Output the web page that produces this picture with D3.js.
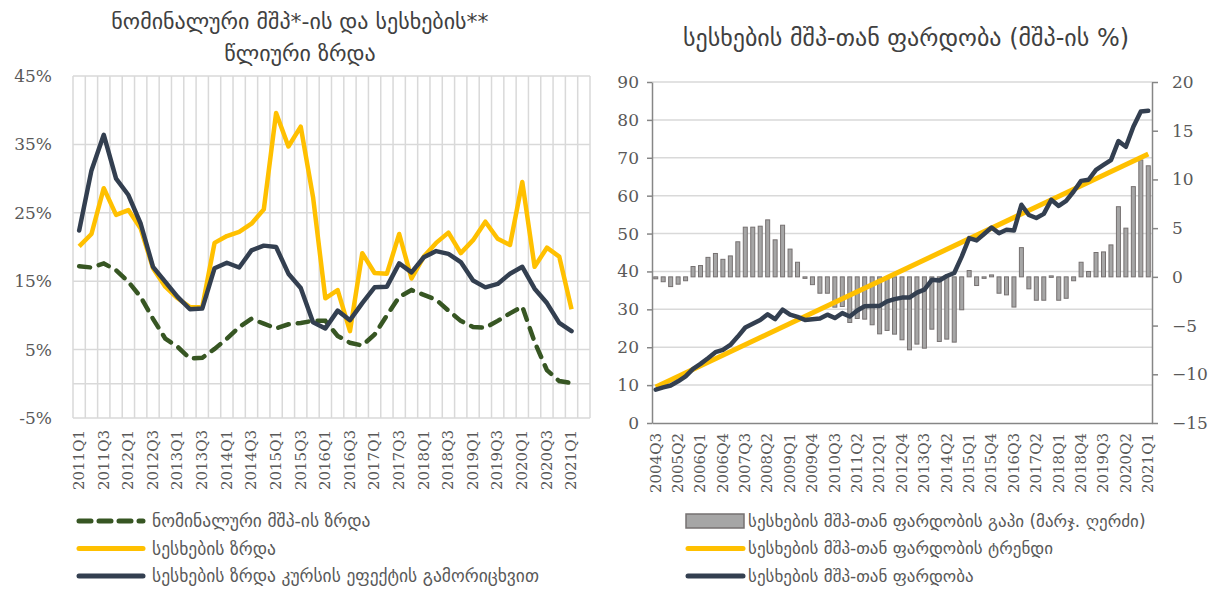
<!DOCTYPE html>
<html>
<head>
<meta charset="utf-8">
<script src="https://cdn.jsdelivr.net/npm/d3@7"></script>
<style>
  body { margin: 0; background: #fff; }
  svg text { fill: #595959; }
</style>
</head>
<body>
<div id="chart"></div>
<script>
// quarter labels helper
const quarters = (y0, q0, y1, q1) => {
	const out = [];
	let y = y0, q = q0;
	while (y < y1 || (y === y1 && q <= q1)) {
		out.push(y + 'Q' + q);
		q++;
		if (q > 4) { q = 1; y++; }
	}
	return out;
};

// ---- left chart data (annual growth, %)
const growthQuarters = quarters(2011, 1, 2021, 1);
const nominalGdpGrowth = [17.2, 17.0, 17.6, 16.6, 14.9, 12.7, 9.5, 6.6, 5.4, 3.7, 3.8, 5.1, 6.6, 8.3, 9.5, 8.8, 8.1, 8.7, 8.9, 9.2, 9.2, 7.0, 6.0, 5.6, 7.2, 10.0, 12.7, 13.7, 13.0, 12.3, 10.7, 9.2, 8.3, 8.2, 9.2, 10.3, 11.3, 6.1, 2.0, 0.4, 0.1];
const loanGrowth = [20.1, 21.9, 28.6, 24.7, 25.4, 22.7, 16.9, 14.2, 12.5, 11.2, 11.2, 20.6, 21.6, 22.2, 23.4, 25.5, 39.6, 34.7, 37.6, 27.3, 12.5, 13.7, 7.7, 19.1, 16.2, 16.1, 21.9, 15.4, 18.6, 20.6, 22.1, 19.1, 21.0, 23.7, 21.2, 20.3, 29.5, 17.1, 19.9, 18.6, 10.9];
const loanGrowthExFx = [22.4, 31.2, 36.4, 30.0, 27.6, 23.4, 17.1, 14.9, 12.7, 10.9, 11.0, 16.9, 17.7, 17.0, 19.5, 20.2, 20.0, 16.1, 14.0, 9.0, 8.1, 10.7, 9.3, 11.8, 14.1, 14.2, 17.6, 16.3, 18.5, 19.4, 19.0, 17.8, 15.1, 14.1, 14.6, 16.1, 17.1, 13.9, 11.8, 8.9, 7.7];
const growthTicks = [-5, 5, 15, 25, 35, 45];

// ---- right chart data (loans to GDP)
const ratioQuarters = quarters(2004, 3, 2021, 1);
const loanToGdp = [8.8, 9.4, 9.9, 11.0, 12.3, 14.3, 15.6, 17.1, 18.7, 19.3, 20.6, 22.8, 25.2, 26.2, 27.2, 28.7, 27.4, 29.9, 28.6, 28.0, 27.2, 27.4, 27.6, 28.6, 27.7, 29.0, 28.1, 29.7, 30.8, 30.9, 30.9, 32.1, 32.7, 33.1, 33.1, 34.4, 35.2, 37.8, 37.6, 38.8, 39.6, 43.9, 48.8, 48.2, 49.9, 51.6, 50.1, 51.0, 50.8, 57.6, 54.9, 54.1, 55.2, 58.9, 57.3, 58.6, 61.1, 63.9, 64.2, 66.8, 68.1, 69.4, 74.4, 72.9, 78.2, 82.2, 82.4];
const loanToGdpGap = [-0.2, -0.5, -1.0, -0.75, -0.4, 1.06, 1.16, 2.0, 2.4, 1.8, 2.15, 3.6, 5.1, 5.1, 5.2, 5.85, 3.8, 5.3, 2.85, 1.5, -0.1, -0.8, -1.68, -1.68, -3.11, -3.04, -4.68, -4.27, -4.34, -4.92, -5.85, -5.5, -5.88, -6.46, -7.49, -6.9, -7.32, -5.37, -6.63, -6.39, -6.7, -3.38, 0.65, -0.89, -0.1, 0.2, -1.68, -1.85, -3.1, 3.0, -1.23, -2.4, -2.4, 0.1, -2.4, -2.2, -0.4, 1.5, 0.55, 2.5, 2.56, 3.28, 7.2, 5.0, 9.26, 12.0, 11.4];
const trendEnds = [['2004Q3', 9.5], ['2021Q1', 71.0]];
const leftTicks = [0, 10, 20, 30, 40, 50, 60, 70, 80, 90];
const rightTicks = [-15, -10, -5, 0, 5, 10, 15, 20];

const titleLeft = ['ნომინალური მშპ*-ის და სესხების**', 'წლიური ზრდა'];
const titleRight = 'სესხების მშპ-თან ფარდობა (მშპ-ის %)';
const legendLeft = ['ნომინალური მშპ-ის ზრდა', 'სესხების ზრდა', 'სესხების ზრდა კურსის ეფექტის გამორიცხვით'];
const legendRight = ['სესხების მშპ-თან ფარდობის გაპი (მარჯ. ღერძი)', 'სესხების მშპ-თან ფარდობის ტრენდი', 'სესხების მშპ-თან ფარდობა'];

const GREEN = '#375623', YELLOW = '#FFC000', NAVY = '#333F50', GRID = '#d9d9d9', AXIS = '#868686';
const geoFont = "'DejaVu Sans', sans-serif";
const numFont = "'DejaVu Serif', serif";

const svg = d3.select('#chart').append('svg')
	.attr('width', 1228).attr('height', 589);

// ================= left chart =================
const L = { left: 73, right: 590, top: 76, bottom: 418 };
const xL = d3.scaleBand().domain(growthQuarters.concat(['pad'])).range([L.left, L.right]);
const yL = d3.scaleLinear().domain([-5, 45]).range([L.bottom, L.top]);
const gL = svg.append('g');

// vertical grid at band edges
const edges = xL.domain().map(d => xL(d)).concat([L.right]);
gL.append('g').selectAll('line').data(edges).enter().append('line')
	.attr('x1', d => d).attr('x2', d => d)
	.attr('y1', L.top).attr('y2', L.bottom)
	.attr('stroke', GRID).attr('stroke-width', 1.5);
gL.append('g').selectAll('line').data(growthTicks.concat([0])).enter().append('line')
	.attr('x1', L.left).attr('x2', L.right)
	.attr('y1', d => yL(d)).attr('y2', d => yL(d))
	.attr('stroke', GRID).attr('stroke-width', 1.5);

gL.append('g')
	.attr('transform', 'translate(' + (L.left - 18) + ',0)')
	.call(d3.axisLeft(yL).tickValues(growthTicks).tickSize(0).tickFormat(d => d + '%'))
	.call(g => g.select('.domain').remove())
	.selectAll('text')
	.style('font-family', numFont).style('font-size', '17px');

gL.append('g')
	.attr('transform', 'translate(0,' + L.bottom + ')')
	.call(d3.axisBottom(xL).tickValues(growthQuarters.filter((d, i) => i % 2 === 0)).tickSize(0))
	.call(g => g.select('.domain').remove())
	.selectAll('text')
	.style('font-family', numFont).style('font-size', '15px')
	.attr('transform', 'rotate(-90)')
	.attr('text-anchor', 'end')
	.attr('x', -12).attr('y', 0).attr('dy', '0.32em');

const lineL = vals => d3.line()
	.x((d, i) => xL(growthQuarters[i]) + xL.bandwidth() / 2)
	.y(d => yL(d))(vals);

gL.append('path').attr('d', lineL(nominalGdpGrowth))
	.attr('fill', 'none').attr('stroke', GREEN).attr('stroke-width', 4.5)
	.attr('stroke-dasharray', '11 9').attr('stroke-linecap', 'round');
gL.append('path').attr('d', lineL(loanGrowth))
	.attr('fill', 'none').attr('stroke', YELLOW).attr('stroke-width', 4.5)
	.attr('stroke-linejoin', 'round');
gL.append('path').attr('d', lineL(loanGrowthExFx))
	.attr('fill', 'none').attr('stroke', NAVY).attr('stroke-width', 4.5)
	.attr('stroke-linejoin', 'round').attr('stroke-linecap', 'round');

gL.append('text').attr('x', 300).attr('text-anchor', 'middle')
	.style('font-family', geoFont).style('font-size', '22px').style('fill', '#404040')
	.selectAll('tspan').data(titleLeft).enter().append('tspan')
	.attr('x', 300).attr('y', (d, i) => 29 + i * 32).text(d => d);

// ================= right chart =================
const R = { left: 652, right: 1152, top: 82, bottom: 423 };
const xR = d3.scaleBand().domain(ratioQuarters).range([R.left, R.right]);
const yR = d3.scaleLinear().domain([0, 90]).range([R.bottom, R.top]);
const yR2 = d3.scaleLinear().domain([-15, 20]).range([R.bottom, R.top]);
const gR = svg.append('g');
const cx = q => xR(q) + xR.bandwidth() / 2;

gR.append('g').selectAll('line').data(leftTicks.slice(1)).enter().append('line')
	.attr('x1', R.left).attr('x2', R.right)
	.attr('y1', d => yR(d)).attr('y2', d => yR(d))
	.attr('stroke', GRID).attr('stroke-width', 1.5);

// bars (gap, right axis)
gR.append('g').selectAll('rect').data(loanToGdpGap).enter().append('rect')
	.attr('x', (d, i) => cx(ratioQuarters[i]) - 2)
	.attr('width', 4)
	.attr('y', d => yR2(Math.max(0, d)))
	.attr('height', d => Math.max(1.5, Math.abs(yR2(d) - yR2(0))))
	.attr('fill', '#a6a6a6').attr('stroke', '#767171').attr('stroke-width', 1);

gR.append('g')
	.attr('transform', 'translate(' + R.left + ',0)')
	.call(d3.axisLeft(yR).tickValues(leftTicks).tickSize(5).tickSizeOuter(0).tickPadding(8))
	.call(g => g.selectAll('line, path').attr('stroke', AXIS).attr('stroke-width', 1.5))
	.selectAll('text')
	.style('font-family', numFont).style('font-size', '17px');

gR.append('g')
	.attr('transform', 'translate(' + R.right + ',0)')
	.call(d3.axisRight(yR2).tickValues(rightTicks).tickSize(6).tickSizeOuter(0).tickPadding(14))
	.call(g => g.selectAll('line, path').attr('stroke', AXIS).attr('stroke-width', 1.5))
	.selectAll('text')
	.style('font-family', numFont).style('font-size', '17px');

gR.append('g')
	.attr('transform', 'translate(0,' + R.bottom + ')')
	.call(d3.axisBottom(xR).tickValues(ratioQuarters.filter((d, i) => i % 3 === 0)).tickSize(0).tickSizeOuter(0))
	.call(g => g.select('.domain').attr('stroke', AXIS).attr('stroke-width', 1.5))
	.selectAll('text')
	.style('font-family', numFont).style('font-size', '15px')
	.attr('transform', 'rotate(-90)')
	.attr('text-anchor', 'end')
	.attr('x', -10).attr('y', 0).attr('dy', '0.32em');

gR.append('path')
	.attr('d', d3.line().x(d => cx(d[0])).y(d => yR(d[1]))(trendEnds))
	.attr('fill', 'none').attr('stroke', YELLOW).attr('stroke-width', 5);
gR.append('path')
	.attr('d', d3.line().x((d, i) => cx(ratioQuarters[i])).y(d => yR(d))(loanToGdp))
	.attr('fill', 'none').attr('stroke', NAVY).attr('stroke-width', 4.5)
	.attr('stroke-linejoin', 'round').attr('stroke-linecap', 'round');

gR.append('text').attr('x', 906).attr('y', 46).attr('text-anchor', 'middle')
	.style('font-family', geoFont).style('font-size', '24px').style('fill', '#404040')
	.text(titleRight);

// ================= legends =================
const legL = svg.append('g').selectAll('g').data(legendLeft).enter().append('g')
	.attr('transform', (d, i) => 'translate(0,' + (521 + i * 27.5) + ')');
legL.append('line').attr('x1', 79).attr('x2', 143)
	.attr('stroke', (d, i) => [GREEN, YELLOW, NAVY][i]).attr('stroke-width', 5)
	.attr('stroke-linecap', 'round')
	.attr('stroke-dasharray', (d, i) => i === 0 ? '12 8' : null);
legL.append('text').attr('x', 152).attr('dy', '0.35em')
	.style('font-family', geoFont).style('font-size', '17.5px')
	.text(d => d);

const legR = svg.append('g').selectAll('g').data(legendRight).enter().append('g')
	.attr('transform', (d, i) => 'translate(0,' + (521 + i * 27.5) + ')');
legR.filter((d, i) => i === 0).append('rect')
	.attr('x', 686).attr('y', -7).attr('width', 58).attr('height', 14)
	.attr('fill', '#a6a6a6').attr('stroke', '#767171').attr('stroke-width', 1.5);
legR.filter((d, i) => i > 0).append('line').attr('x1', 688).attr('x2', 743)
	.attr('stroke', (d, i) => [YELLOW, NAVY][i]).attr('stroke-width', 5)
	.attr('stroke-linecap', 'round');
legR.append('text').attr('x', 748).attr('dy', '0.35em')
	.style('font-family', geoFont).style('font-size', '17px')
	.text(d => d);
</script>
</body>
</html>
